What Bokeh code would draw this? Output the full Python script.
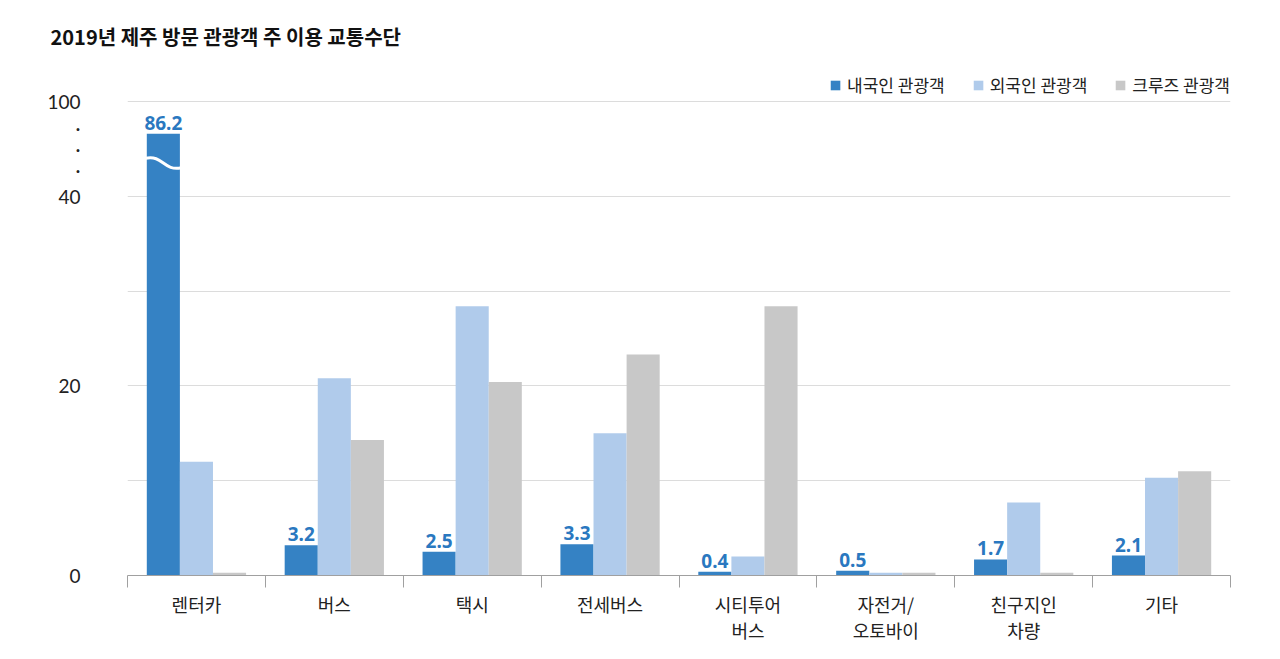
from bokeh.plotting import figure
from bokeh.models import ColumnDataSource, FixedTicker, Range1d, Legend, LegendItem
from bokeh.embed import file_html
from bokeh.resources import INLINE
from bokeh.core.properties import value

# ---------------- data ----------------
title_text = "2019년 제주 방문 관광객 주 이용 교통수단"
categories = ["렌터카", "버스", "택시", "전세버스", "시티투어\n버스",
              "자전거/\n오토바이", "친구지인\n차량", "기타"]
series_names = ["내국인 관광객", "외국인 관광객", "크루즈 관광객"]
domestic = [86.2, 3.2, 2.5, 3.3, 0.4, 0.5, 1.7, 2.1]
foreign = [12.0, 20.8, 28.4, 15.0, 2.0, 0.3, 7.7, 10.3]
cruise = [0.3, 14.3, 20.4, 23.3, 28.4, 0.3, 0.3, 11.0]
y_ticks = [0, 20, 40, 50]
y_tick_labels = {0: "0", 20: "20", 40: "40", 50: "100"}
grid_ticks = [0, 10, 20, 30, 40, 50]
break_dots = [42.8, 45.0, 47.2]
AXIS_TOP = 50          # axis value shown as "100"
BREAK_DISPLAY = 46.6   # drawn height of values beyond the axis break
BREAK_AT = 43.5        # where the wavy break mark sits

colors = ["#3582c4", "#b0cbeb", "#c8c8c8"]
label_color = "#2a78c0"
KFONT = "Noto Sans CJK KR"

n = len(categories)
bar_w = 0.24
offsets = [-bar_w, 0.0, bar_w]

def shown(v):
    return v if v <= AXIS_TOP else BREAK_DISPLAY

p = figure(width=1264, height=659, output_backend="svg", toolbar_location=None,
           x_range=Range1d(0, n), y_range=Range1d(0, 53.05),
           min_border_left=127, min_border_right=34, min_border_top=71,
           min_border_bottom=84)
p.outline_line_color = None
p.background_fill_color = "white"

# title
p.title.text = title_text
p.title.align = "left"
p.title.vertical_align = "middle"
p.title.offset = -77
p.title.standoff = 41
p.title.text_font = KFONT
p.title.text_font_style = "bold"
p.title.text_font_size = "20px"
p.title.text_color = "#111111"

renderers = []
for vals, off, col in zip([domestic, foreign, cruise], offsets, colors):
    src = ColumnDataSource(dict(x=[i + 0.5 + off for i in range(n)],
                                top=[shown(v) for v in vals]))
    r = p.vbar(x="x", top="top", width=bar_w, source=src, fill_color=col,
               line_color=None)
    renderers.append(r)

# data labels (domestic)
lab_src = ColumnDataSource(dict(x=[i + 0.5 + offsets[0] for i in range(n)],
                                y=[shown(v) for v in domestic],
                                t=[f"{v:.1f}" for v in domestic]))
p.text(x="x", y="y", text="t", source=lab_src, text_align="center",
       text_baseline="bottom", y_offset=-4, text_color=label_color,
       text_font=value("Noto Sans"), text_font_style="bold", text_font_size="19px")

# wavy break mark on bars beyond the axis top
for i, v in enumerate(domestic):
    if v > AXIS_TOP:
        xl = i + 0.5 + offsets[0] - bar_w / 2
        xr = xl + bar_w
        xm = (xl + xr) / 2
        p.bezier(x0=[xl - 0.01], y0=[BREAK_AT + 0.5], x1=[xr + 0.01], y1=[BREAK_AT - 0.5],
                 cx0=[xm], cy0=[BREAK_AT + 0.9], cx1=[xm], cy1=[BREAK_AT - 0.9],
                 line_color="white", line_width=3)

# grid
p.xgrid.visible = False
p.ygrid.ticker = FixedTicker(ticks=grid_ticks)
p.ygrid.grid_line_color = "#dcdcdc"
p.ygrid.grid_line_width = 1

# y axis
p.yaxis.ticker = FixedTicker(ticks=y_ticks + break_dots)
overrides = dict(y_tick_labels)
for d in break_dots:
    overrides[d] = "·"
p.yaxis.major_label_overrides = overrides
p.yaxis.axis_line_color = None
p.yaxis.major_tick_line_color = None
p.yaxis.minor_tick_line_color = None
p.yaxis.major_label_standoff = 41
p.yaxis.major_label_text_font = "Lato"
p.yaxis.major_label_text_font_size = "19px"
p.yaxis.major_label_text_color = "#222222"

# x axis
p.xaxis.ticker = FixedTicker(ticks=[i + 0.5 for i in range(n)],
                             minor_ticks=list(range(n + 1)))
p.xaxis.major_label_overrides = {i + 0.5: c for i, c in enumerate(categories)}
p.xaxis.axis_line_color = "#a0a0a0"
p.xaxis.major_tick_line_color = None
p.xaxis.minor_tick_line_color = "#a0a0a0"
p.xaxis.minor_tick_out = 12
p.xaxis.minor_tick_in = 0
p.xaxis.major_label_standoff = 3
p.xaxis.major_label_text_font = KFONT
p.xaxis.major_label_text_font_size = "18px"
p.xaxis.major_label_text_line_height = 1.0
p.xaxis.major_label_text_color = "#222222"

# legend
legend = Legend(items=[LegendItem(label=nm, renderers=[r]) for nm, r in zip(series_names, renderers)],
                location="top_right", orientation="horizontal",
                glyph_width=12, glyph_height=12, label_standoff=6, spacing=27,
                padding=0, margin=0, border_line_color=None,
                background_fill_alpha=0, label_text_font=KFONT,
                label_text_font_size="17px", label_text_color="#222222")
p.add_layout(legend)

open("out.html", "w").write(file_html(p, INLINE))
